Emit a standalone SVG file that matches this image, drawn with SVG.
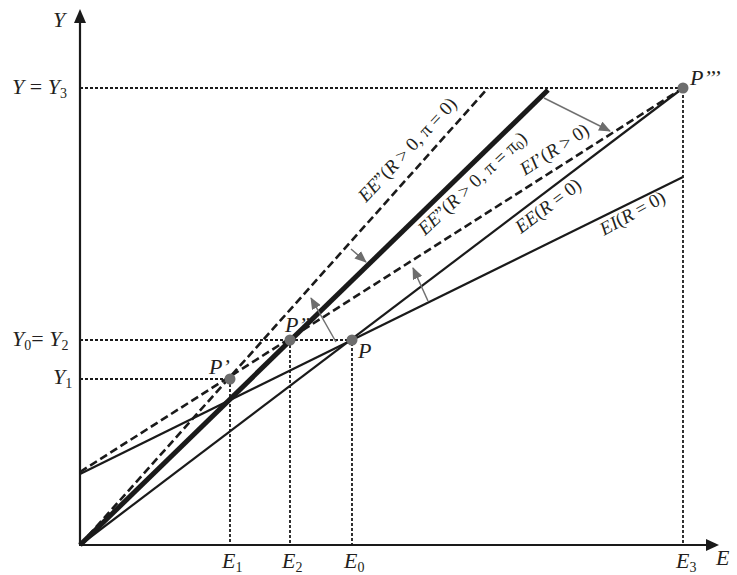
<svg xmlns="http://www.w3.org/2000/svg" width="737" height="575" viewBox="0 0 737 575">
<style>
text{font-family:"Liberation Serif","Times New Roman",serif;fill:#231f20}
.it{font-style:italic}
.lbl{font-size:22px}
.ln{font-size:19px}
.sub{font-size:14px;font-style:normal}
.axis{stroke:#1a1a1a;stroke-width:2.2;fill:none}
.solid{stroke:#1a1a1a;stroke-width:2.2;fill:none}
.thick{stroke:#1a1a1a;stroke-width:5;fill:none}
.dash{stroke:#1a1a1a;stroke-width:2.6;fill:none;stroke-dasharray:8 4}
.dot{stroke:#1a1a1a;stroke-width:1.8;fill:none;stroke-dasharray:3 2}
.garr{stroke:#707070;stroke-width:1.5;fill:none;marker-end:url(#gh)}
.pt{fill:#6d6d6d}
</style>
<defs>
<marker id="gh" viewBox="0 0 12 10" refX="11" refY="5" markerWidth="12" markerHeight="10" markerUnits="userSpaceOnUse" orient="auto">
<path d="M0,0 L12,5 L0,10 Z" fill="#6d6d6d"/>
</marker>
</defs>
<g id="axes">
<line class="axis" x1="80" y1="545" x2="80" y2="20"/>
<path d="M80,9 L74,23 L86,23 Z" fill="#1a1a1a"/>
<line class="axis" x1="79" y1="545" x2="708" y2="545"/>
<path d="M719,545 L706,539 L706,551 Z" fill="#1a1a1a"/>
<text class="lbl it" x="53" y="27">Y</text>
<text class="lbl it" x="716" y="565">E</text>
</g>
<g id="guides">
<polyline class="dot" points="80,88 683,88 683,545"/>
<polyline class="dot" points="80,340 352,340 352,545"/>
<line class="dot" x1="290" y1="340" x2="290" y2="545"/>
<polyline class="dot" points="80,379 230,379 230,545"/>
</g>
<g id="axis-labels">
<text class="lbl" x="12" y="94"><tspan class="it">Y</tspan> = <tspan class="it">Y</tspan><tspan class="sub" dy="4">3</tspan></text>
<text class="lbl" x="12" y="346"><tspan class="it">Y</tspan><tspan class="sub" dy="4">0</tspan><tspan dy="-4">= </tspan><tspan class="it">Y</tspan><tspan class="sub" dy="4">2</tspan></text>
<text class="lbl" x="53" y="384"><tspan class="it">Y</tspan><tspan class="sub" dy="4">1</tspan></text>
<text class="lbl" x="222" y="568"><tspan class="it">E</tspan><tspan class="sub" dy="4">1</tspan></text>
<text class="lbl" x="282" y="568"><tspan class="it">E</tspan><tspan class="sub" dy="4">2</tspan></text>
<text class="lbl" x="344" y="568"><tspan class="it">E</tspan><tspan class="sub" dy="4">0</tspan></text>
<text class="lbl" x="676" y="568"><tspan class="it">E</tspan><tspan class="sub" dy="4">3</tspan></text>
</g>
<g id="connectors">
<line id="EE" class="solid" x1="80" y1="545" x2="683" y2="88"/>
<line id="EI" class="solid" x1="80" y1="474" x2="683" y2="177"/>
<line id="EIp" class="dash" x1="80" y1="472" x2="683" y2="88"/>
<line id="EEpp0" class="dash" x1="80" y1="545" x2="488" y2="88"/>
<line id="EEpp1" class="thick" x1="80" y1="545" x2="548" y2="90"/>
<line class="garr" x1="544" y1="98" x2="610" y2="131"/>
<line class="garr" x1="351" y1="249" x2="366" y2="262"/>
<line class="garr" x1="336" y1="342" x2="311" y2="298"/>
<line class="garr" x1="428" y1="301" x2="413" y2="268"/>
</g>
<g id="line-labels">
<text class="ln" transform="translate(366,203) rotate(-47)"><tspan class="it">EE</tspan>”(<tspan class="it">R</tspan> &gt; 0, π = 0)</text>
<text class="ln" transform="translate(425,236) rotate(-43)"><tspan class="it">EE</tspan>”(<tspan class="it">R</tspan> &gt; 0, π = π<tspan font-size="13" dy="3">0</tspan><tspan dy="-3">)</tspan></text>
<text class="ln" transform="translate(525,176) rotate(-33)"><tspan class="it">EI</tspan>’(<tspan class="it">R</tspan> &gt; 0)</text>
<text class="ln" transform="translate(521,234) rotate(-37)"><tspan class="it">EE</tspan>(<tspan class="it">R</tspan> = 0)</text>
<text class="ln" transform="translate(604,236) rotate(-29)"><tspan class="it">EI</tspan>(<tspan class="it">R</tspan> = 0)</text>
</g>
<g id="P"><circle class="pt" cx="352" cy="340" r="5.5"/><text class="lbl it" x="358" y="358">P</text></g>
<g id="P1"><circle class="pt" cx="230" cy="379" r="5.5"/><text class="lbl it" x="209" y="374">P’</text></g>
<g id="P2"><circle class="pt" cx="290" cy="340" r="5.5"/><text class="lbl it" x="285" y="332">P”</text></g>
<g id="P3"><circle class="pt" cx="683" cy="88" r="5.5"/><text class="lbl it" x="690" y="85">P’’’</text></g>
</svg>
